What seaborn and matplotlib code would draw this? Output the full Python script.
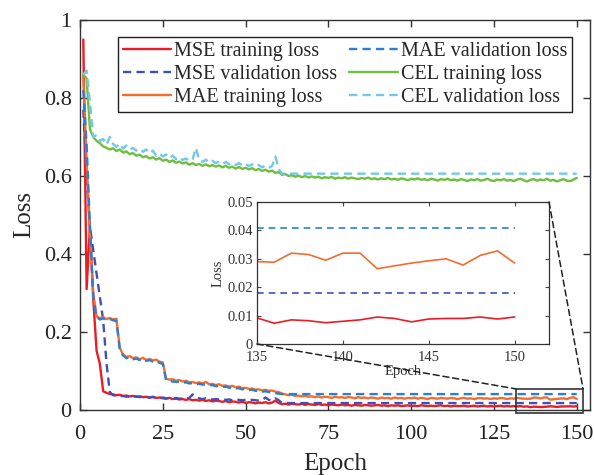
import numpy as np
import matplotlib
matplotlib.use("Agg")
import matplotlib.pyplot as plt
import seaborn as sns
from matplotlib.patches import Rectangle, ConnectionPatch

# Loss curves (epochs 1..150)
epochs = np.arange(1, 151)

mse_train = [
    0.950, 0.310, 0.470, 0.285, 0.152, 0.118, 0.048, 0.044, 0.041, 0.040,
    0.038, 0.039, 0.036, 0.037, 0.035, 0.036, 0.034, 0.035, 0.033, 0.034,
    0.032, 0.033, 0.031, 0.032, 0.030, 0.029, 0.031, 0.028, 0.029, 0.027,
    0.028, 0.026, 0.028, 0.025, 0.026, 0.024, 0.026, 0.023, 0.025, 0.022,
    0.024, 0.023, 0.021, 0.023, 0.020, 0.022, 0.021, 0.019, 0.021, 0.018,
    0.020, 0.019, 0.017, 0.019, 0.018, 0.020, 0.017, 0.019, 0.024, 0.018,
    0.015, 0.016, 0.014, 0.016, 0.015, 0.014, 0.016, 0.013, 0.015, 0.014,
    0.013, 0.015, 0.013, 0.014, 0.012, 0.014, 0.013, 0.012, 0.014, 0.012,
    0.013, 0.011, 0.013, 0.012, 0.011, 0.013, 0.012, 0.011, 0.012, 0.013,
    0.011, 0.012, 0.010, 0.012, 0.011, 0.012, 0.010, 0.011, 0.012, 0.010,
    0.011, 0.010, 0.012, 0.011, 0.010, 0.011, 0.010, 0.011, 0.012, 0.010,
    0.011, 0.009, 0.011, 0.010, 0.010, 0.011, 0.009, 0.010, 0.011, 0.009,
    0.010, 0.011, 0.009, 0.010, 0.009, 0.010, 0.011, 0.009, 0.010, 0.009,
    0.010, 0.009, 0.010, 0.0085,
    0.0092, 0.0073, 0.0085, 0.0082, 0.0075, 0.0080, 0.0085, 0.0095,
    0.0090, 0.0078, 0.0088, 0.0090, 0.0090, 0.0095, 0.0088, 0.0095,
]

mse_val = [
    0.770, 0.600, 0.470, 0.410, 0.350, 0.290, 0.230, 0.120, 0.046, 0.038,
    0.036, 0.035, 0.036, 0.034, 0.035, 0.034, 0.035, 0.033, 0.034, 0.033,
    0.032, 0.034, 0.032, 0.031, 0.032, 0.030, 0.031, 0.030, 0.031, 0.029,
    0.030, 0.029, 0.031, 0.040, 0.033, 0.030, 0.028, 0.030, 0.029, 0.027,
    0.028, 0.027, 0.029, 0.026, 0.027, 0.025, 0.027, 0.026, 0.025, 0.026,
    0.024, 0.026, 0.025, 0.024, 0.025, 0.032, 0.026, 0.024, 0.030, 0.025,
] + [0.0178] * 90

mae_train = [
    0.860, 0.640, 0.450, 0.300, 0.240, 0.236, 0.238, 0.233, 0.236, 0.232,
    0.234, 0.160, 0.142, 0.136, 0.138, 0.133, 0.135, 0.130, 0.134, 0.128,
    0.131, 0.127, 0.129, 0.124, 0.122, 0.080, 0.078, 0.079, 0.075, 0.077,
    0.073, 0.075, 0.071, 0.072, 0.069, 0.071, 0.068, 0.072, 0.066, 0.067,
    0.064, 0.066, 0.062, 0.063, 0.060, 0.062, 0.058, 0.060, 0.056, 0.057,
    0.054, 0.055, 0.052, 0.053, 0.050, 0.052, 0.049, 0.050, 0.047, 0.046,
    0.042, 0.040, 0.038, 0.039, 0.036, 0.037, 0.035, 0.036, 0.034, 0.035,
    0.033, 0.035, 0.032, 0.034, 0.033, 0.031, 0.034, 0.032, 0.033, 0.031,
    0.033, 0.032, 0.030, 0.033, 0.031, 0.032, 0.030, 0.032, 0.031, 0.029,
    0.032, 0.030, 0.031, 0.029, 0.032, 0.030, 0.031, 0.029, 0.031, 0.030,
    0.032, 0.029, 0.031, 0.030, 0.028, 0.031, 0.030, 0.029, 0.031, 0.030,
    0.029, 0.031, 0.030, 0.028, 0.030, 0.031, 0.029, 0.030, 0.028, 0.030,
    0.031, 0.029, 0.030, 0.028, 0.030, 0.029, 0.031, 0.030, 0.028, 0.030,
    0.029, 0.031, 0.030, 0.029,
    0.0290, 0.0288, 0.0320, 0.0315, 0.0295, 0.0320, 0.0320, 0.0265,
    0.0275, 0.0285, 0.0293, 0.0300, 0.0278, 0.0312, 0.0328, 0.0285,
]

mae_val = [
    0.820, 0.680, 0.470, 0.290, 0.238, 0.232, 0.235, 0.230, 0.233, 0.230,
    0.228, 0.155, 0.140, 0.133, 0.135, 0.130, 0.132, 0.128, 0.131, 0.126,
    0.128, 0.124, 0.126, 0.121, 0.118, 0.076, 0.075, 0.073, 0.072, 0.073,
    0.070, 0.071, 0.068, 0.069, 0.066, 0.067, 0.065, 0.066, 0.063, 0.064,
    0.061, 0.062, 0.059, 0.060, 0.057, 0.058, 0.055, 0.056, 0.053, 0.054,
    0.051, 0.052, 0.049, 0.050, 0.047, 0.048, 0.046, 0.045, 0.043, 0.042,
] + [0.0408] * 90

cel_train = [
    0.860, 0.850, 0.720, 0.700, 0.690, 0.684, 0.676, 0.672, 0.668, 0.671,
    0.664, 0.668, 0.660, 0.663, 0.656, 0.659, 0.652, 0.655, 0.648, 0.651,
    0.645, 0.648, 0.642, 0.646, 0.639, 0.642, 0.636, 0.640, 0.634, 0.637,
    0.632, 0.635, 0.629, 0.633, 0.628, 0.631, 0.626, 0.630, 0.625, 0.628,
    0.624, 0.627, 0.622, 0.626, 0.621, 0.624, 0.619, 0.623, 0.618, 0.621,
    0.617, 0.620, 0.615, 0.618, 0.613, 0.616, 0.611, 0.614, 0.608, 0.610,
    0.603, 0.605, 0.600, 0.602, 0.598, 0.601, 0.597, 0.600, 0.596, 0.599,
    0.596, 0.598, 0.594, 0.597, 0.595, 0.598, 0.593, 0.596, 0.594, 0.597,
    0.593, 0.596, 0.594, 0.592, 0.595, 0.593, 0.596, 0.592, 0.594, 0.591,
    0.594, 0.592, 0.595, 0.591, 0.593, 0.590, 0.594, 0.592, 0.589, 0.593,
    0.591, 0.594, 0.590, 0.592, 0.589, 0.593, 0.591, 0.588, 0.592, 0.590,
    0.593, 0.589, 0.591, 0.588, 0.592, 0.590, 0.587, 0.591, 0.589, 0.592,
    0.588, 0.590, 0.593, 0.589, 0.587, 0.591, 0.589, 0.592, 0.588, 0.590,
    0.587, 0.591, 0.593, 0.589, 0.586, 0.590, 0.592, 0.588, 0.591, 0.589,
    0.593, 0.588, 0.590, 0.586, 0.589, 0.592, 0.588, 0.587, 0.591, 0.595,
]

cel_val = [
    0.860, 0.870, 0.790, 0.700, 0.705, 0.690, 0.695, 0.680, 0.700, 0.682,
    0.675, 0.683, 0.670, 0.678, 0.668, 0.672, 0.665, 0.670, 0.662, 0.668,
    0.658, 0.665, 0.652, 0.658, 0.650, 0.655, 0.646, 0.652, 0.643, 0.648,
    0.641, 0.645, 0.638, 0.643, 0.672, 0.640, 0.636, 0.642, 0.634, 0.639,
    0.633, 0.637, 0.631, 0.636, 0.630, 0.634, 0.628, 0.633, 0.627, 0.631,
    0.625, 0.630, 0.624, 0.628, 0.622, 0.627, 0.621, 0.626, 0.650, 0.618,
] + [0.606] * 90

series = [
    ("MSE training loss", mse_train, "#ec1c24", "-"),
    ("MSE validation loss", mse_val, "#4150b8", "--"),
    ("MAE training loss", mae_train, "#f46d2d", "-"),
    ("MAE validation loss", mae_val, "#2b7fd2", "--"),
    ("CEL training loss", cel_train, "#6fbf3f", "-"),
    ("CEL validation loss", cel_val, "#72c8e8", "--"),
]

main_xticks = [0, 25, 50, 75, 100, 125, 150]
main_yticks = [0, 0.2, 0.4, 0.6, 0.8, 1]
main_ylabels = ["0", "0.2", "0.4", "0.6", "0.8", "1"]
inset_xticks = [135, 140, 145, 150]
inset_yticks = [0, 0.01, 0.02, 0.03, 0.04, 0.05]
inset_ylabels = ["0", "0.01", "0.02", "0.03", "0.04", "0.05"]

sns.set_style("ticks")
plt.rcParams["font.family"] = ["Liberation Serif", "DejaVu Serif"]
plt.rcParams["axes.edgecolor"] = "#333333"

fig = plt.figure(figsize=(5.94, 4.75), dpi=100)
ax = fig.add_axes([80 / 594, 65 / 475, 510 / 594, 390 / 475])

for name, vals, col, ls in series:
    dash = (0, (3.5, 2.2)) if ls == "--" else "-"
    sns.lineplot(x=epochs, y=vals, ax=ax, color=col, linestyle=dash,
                 linewidth=1.7, label=name)

ax.set_xlim(0, 154)
ax.set_ylim(0, 1)
ax.set_xticks(main_xticks)
ax.set_yticks(main_yticks)
ax.set_yticklabels(main_ylabels)
ax.tick_params(direction="in", top=True, right=True, labelsize=16,
               length=5, width=1, colors="#333333", labelcolor="#222222")
ax.tick_params(axis="x", pad=11)
ax.tick_params(axis="y", pad=6)
ax.set_xlabel("Epoch", fontsize=18, labelpad=6)
ax.set_ylabel("Loss", fontsize=18, labelpad=6)
for sp in ax.spines.values():
    sp.set_linewidth(1.0)

leg = ax.legend(loc="upper right", bbox_to_anchor=(0.965, 0.957), ncol=2,
                fontsize=14.5, frameon=True, fancybox=False, framealpha=1,
                edgecolor="#222222", handlelength=2.4, handletextpad=0.15,
                columnspacing=0.6, labelspacing=0.2, borderpad=0.25,
                borderaxespad=0)
leg.get_frame().set_linewidth(1.0)

# zoom box on the main axes
ax.add_patch(Rectangle((131.7, -0.007), 20.2, 0.061, fill=False,
                       edgecolor="#333333", linewidth=1.2, clip_on=False,
                       zorder=5))

# inset
ax2 = fig.add_axes([257 / 594, 131 / 475, 292 / 594, 142 / 475])
for name, vals, col, ls in series[:4]:
    dash = (0, (4, 3)) if ls == "--" else "-"
    sns.lineplot(x=epochs[134:], y=vals[134:], ax=ax2, color=col,
                 linestyle=dash, linewidth=1.2)
ax2.set_xlim(135, 152)
ax2.set_ylim(0, 0.05)
ax2.set_xticks(inset_xticks)
ax2.set_yticks(inset_yticks)
ax2.set_yticklabels(inset_ylabels)
ax2.tick_params(direction="in", top=True, right=True, labelsize=10.5,
                length=3, width=0.8, colors="#444444", labelcolor="#333333")
ax2.tick_params(axis="x", pad=5)
ax2.tick_params(axis="y", pad=3)
ax2.set_xlabel("Epoch", fontsize=10.5, labelpad=1, color="#333333")
ax2.set_ylabel("Loss", fontsize=10.5, labelpad=2, color="#333333")
for sp in ax2.spines.values():
    sp.set_linewidth(0.9)

for a_pt, b_pt in [((135, 0), (131.7, 0.054)), ((152, 0.05), (151.9, 0.054))]:
    con = ConnectionPatch(xyA=a_pt, coordsA=ax2.transData,
                          xyB=b_pt, coordsB=ax.transData,
                          linestyle=(0, (4, 2.5)), color="#222222",
                          linewidth=1.1, zorder=6)
    fig.add_artist(con)

fig.savefig("out.png", dpi=100)
